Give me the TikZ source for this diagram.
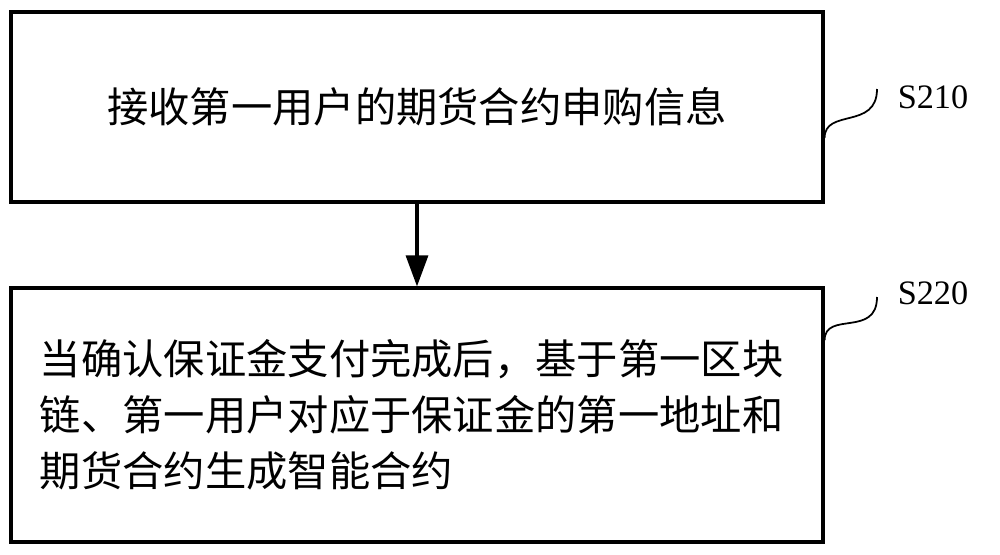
\documentclass[tikz,border=0pt]{standalone}
\usepackage{fontspec}
\setmainfont{Liberation Serif}
\newfontfamily\cjk{Noto Sans CJK SC}
\usetikzlibrary{arrows.meta,positioning}

\tikzset{
  stepbox/.style={draw, line width=1.8pt, minimum width=16.24cm, inner sep=0pt,
    font=\cjk\fontsize{23.5pt}{31.8pt}\selectfont},
  steplabel/.style={font=\fontsize{19.5pt}{22pt}\selectfont},
  wavy/.style={line width=1pt}
}

\begin{document}
\begin{tikzpicture}
            \useasboundingbox (0,0) rectangle (20,-11.08);
            % Steps
            \node[stepbox, minimum height=3.8cm] (recv) at (8.34,-2.14) {接收第一用户的期货合约申购信息};
            \node[stepbox, minimum height=5.08cm, text width=15.08cm, inner xsep=0.58cm, align=left] (gen) at (8.34,-8.30)
              {当确认保证金支付完成后，基于第一区块\\链、第一用户对应于保证金的第一地址和\\期货合约生成智能合约};

            % Flow
            \draw[line width=1.8pt, ->, >={Triangle[length=0.62cm, width=0.44cm]}] (recv) -- (gen);

            % Step labels
            \node[steplabel] (lab1) at (18.66,-1.94) {S210};
            \node[steplabel] (lab2) at (18.66,-5.86) {S220};
            \coordinate (end1) at (17.54,-1.78);
            \coordinate (end2) at (17.54,-5.94);
            \draw[wavy] ([yshift=-0.62cm]recv.east) .. controls +(0,0.6) and (17.54,-2.6) .. (end1);
            \draw[wavy] ([yshift=-1.08cm]gen.north east) .. controls +(0,0.6) and (17.54,-6.76) .. (end2);
        \end{tikzpicture}
\end{document}
